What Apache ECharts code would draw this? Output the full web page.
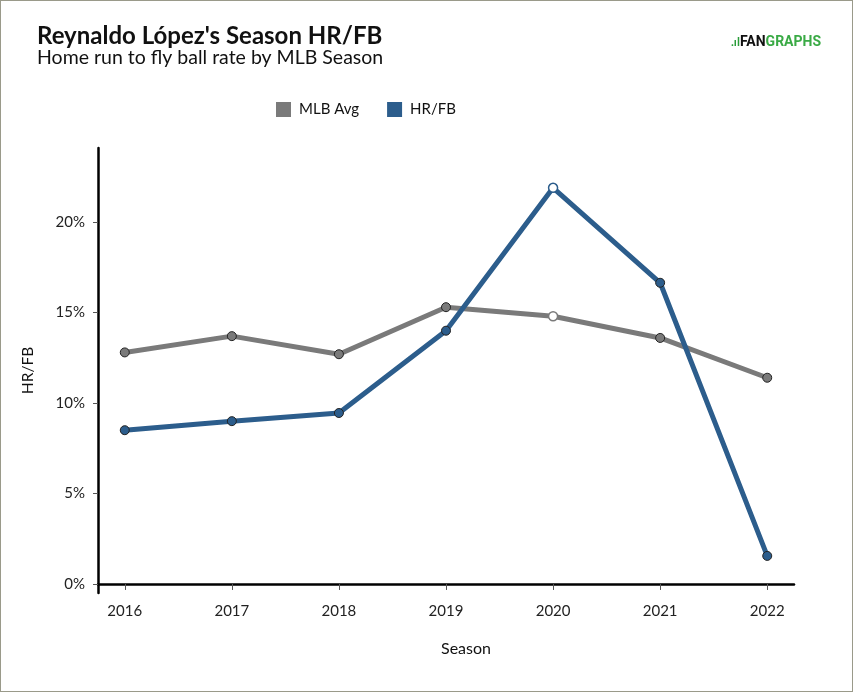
<!DOCTYPE html>
<html>
<head>
<meta charset="utf-8">
<script src="https://cdn.jsdelivr.net/npm/echarts@6/dist/echarts.min.js"></script>
<style>
html,body{margin:0;padding:0;background:#fff;}
#wrap{position:absolute;left:0;top:0;width:851px;height:690px;border:1px solid #9a9a8a;}
#chart{width:851px;height:690px;}
</style>
</head>
<body>
<div id="wrap"><div id="chart"></div></div>
<script>
const seasons = [2016, 2017, 2018, 2019, 2020, 2021, 2022];
const mlbAvg = [12.8, 13.7, 12.7, 15.3, 14.8, 13.6, 11.4];
const hrfb = [8.5, 9.0, 9.45, 14.0, 21.9, 16.65, 1.55];
const yTicks = [0, 5, 10, 15, 20];
const hollowSeason = 2020;

const GRAY = '#7a7a7a', BLUE = '#2c5d8c';
function pts(vals, color) {
  return seasons.map((s, i) => ({
    value: [s, vals[i]],
    itemStyle: s === hollowSeason ? {color: '#fff', borderColor: color, borderWidth: 1.5}
                                  : {color: color, borderColor: '#222', borderWidth: 1}
  }));
}
const font = 'Lato, "Noto Sans", sans-serif';
const chart = echarts.init(document.getElementById('chart'), null, {renderer: 'canvas'});
chart.setOption({
  animation: false,
  textStyle: {fontFamily: font},
  title: {
    text: "Reynaldo López's Season HR/FB",
    subtext: 'Home run to fly ball rate by MLB Season',
    left: 31, top: 18,
    textStyle: {fontFamily: font, fontSize: 24, fontWeight: 'bold', color: '#111'},
    subtextStyle: {fontFamily: font, fontSize: 19.5, color: '#111'},
    itemGap: 0
  },
  legend: {
    top: 96, left: 270,
    itemWidth: 15, itemHeight: 15, itemGap: 28,
    icon: 'rect',
    textStyle: {fontFamily: font, fontSize: 15, color: '#111', padding: [0, 0, 0, 3]},
    data: [{name: 'MLB Avg', itemStyle: {color: GRAY, borderWidth: 0}}, {name: 'HR/FB', itemStyle: {color: BLUE, borderWidth: 0}}]
  },
  graphic: [{
    type: 'text', left: 730, top: 34,
    style: {
      text: '{a|.ıl}{b|FAN}{c|GRAPHS}',
      rich: {
        a: {fill: '#2a9d3a', fontSize: 12, fontWeight: 'bold', fontFamily: font},
        b: {fill: '#111', fontSize: 14, fontWeight: 'bold', fontFamily: 'Roboto, sans-serif'},
        c: {fill: '#3aaa45', fontSize: 14, fontWeight: 'bold', fontFamily: 'Roboto, sans-serif'}
      }
    }
  }],
  grid: {left: 97, right: 58, top: 147, bottom: 98, containLabel: false},
  xAxis: {
    type: 'value', min: 2015.75, max: 2022.25,
    name: 'Season', nameLocation: 'middle', nameGap: 48,
    nameTextStyle: {fontFamily: font, fontSize: 16, color: '#111', padding: [0, 0, 0, 40]},
    axisLine: {show: true, lineStyle: {color: '#000', width: 2.5}},
    axisTick: {show: true, length: 6, lineStyle: {color: '#555'}, customValues: seasons},
    axisLabel: {fontFamily: font, fontSize: 15, color: '#222', margin: 11, customValues: seasons, formatter: v => String(v)},
    splitLine: {show: false}
  },
  yAxis: {
    type: 'value', min: -0.5, max: 24.1,
    name: 'HR/FB', nameLocation: 'middle', nameGap: 62,
    nameTextStyle: {fontFamily: font, fontSize: 15.5, color: '#111'},
    axisLine: {show: true, lineStyle: {color: '#000', width: 2.5}},
    axisTick: {show: true, length: 5, lineStyle: {color: '#555'}, customValues: yTicks},
    axisLabel: {fontFamily: font, fontSize: 15, color: '#222', margin: 13, customValues: yTicks, formatter: v => v + '%'},
    splitLine: {show: false}
  },
  series: [
    {name: 'MLB Avg', type: 'line', data: pts(mlbAvg, GRAY), symbol: 'circle', symbolSize: 9,
     lineStyle: {color: GRAY, width: 5}, itemStyle: {color: GRAY}, z: 2},
    {name: 'HR/FB', type: 'line', data: pts(hrfb, BLUE), symbol: 'circle', symbolSize: 9,
     lineStyle: {color: BLUE, width: 5}, itemStyle: {color: BLUE}, z: 3}
  ]
});
</script>
</body>
</html>
